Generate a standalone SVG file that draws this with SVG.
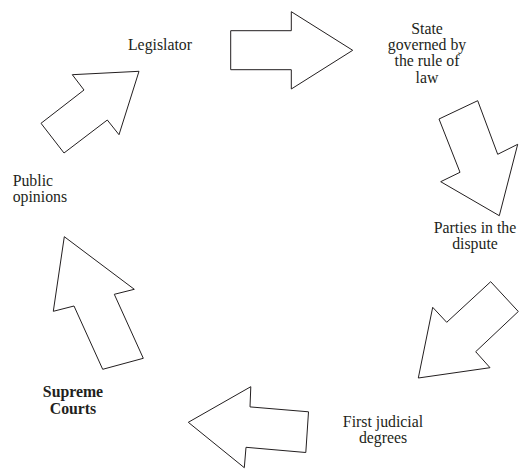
<svg xmlns="http://www.w3.org/2000/svg" width="519" height="471" viewBox="0 0 519 471">
<style>
.arrow{fill:#fff;stroke:#231f20;stroke-width:1;stroke-linejoin:miter}
.t{font-family:"Liberation Serif","Times New Roman",serif;font-size:15.8px;fill:#231f20}
.c{text-anchor:middle}
.b{font-weight:bold}
</style>
<rect width="519" height="471" fill="#fff"/>
<g id="connectors">
<polygon id="arrow-top" class="arrow" points="230.7,30.7 291.3,30.7 291.3,11.7 352.7,50.3 291.3,89 291.3,69.7 230.7,69.7"/>
<polygon id="arrow-right-down" class="arrow" points="477.7,100.7 439,119 460,172.3 440.7,181.7 499.3,215.7 517.7,144.3 497.7,154.3"/>
<polygon id="arrow-right-lower" class="arrow" points="490.7,281.7 518.3,311.5 475.7,351.7 490,367.7 418.3,378 432.7,307.3 446.7,322.3"/>
<polygon id="arrow-bottom" class="arrow" points="308.5,411.8 305.8,452.5 246,447.3 244.3,467.7 188.3,422.3 250.8,386.7 250,406.9"/>
<polygon id="arrow-left-up" class="arrow" points="64.3,236.7 134.3,289.3 114.3,294.3 143.3,358.3 102.7,369.3 74,306 53.3,311.3"/>
<polygon id="arrow-left-top" class="arrow" points="139,71.3 119,134.7 107.3,120 64,153 41,123.3 84,90 72.3,74.7"/>
</g>
<g id="legislator"><text class="t c" x="160" y="50">Legislator</text></g>
<g id="state"><text class="t c" x="427" y="34">State</text><text class="t c" x="427" y="50">governed by</text><text class="t c" x="427" y="66.3">the rule of</text><text class="t c" x="427" y="82.6">law</text></g>
<g id="parties"><text class="t c" x="475" y="233">Parties in the</text><text class="t c" x="475" y="249.3">dispute</text></g>
<g id="first-judicial"><text class="t c" x="383" y="426.7">First judicial</text><text class="t c" x="383" y="443.3">degrees</text></g>
<g id="supreme-courts"><text class="t c b" x="73" y="396.7">Supreme</text><text class="t c b" x="73" y="414">Courts</text></g>
<g id="public-opinions"><text class="t" x="12.7" y="186">Public</text><text class="t" x="12.7" y="201.7">opinions</text></g>
</svg>
